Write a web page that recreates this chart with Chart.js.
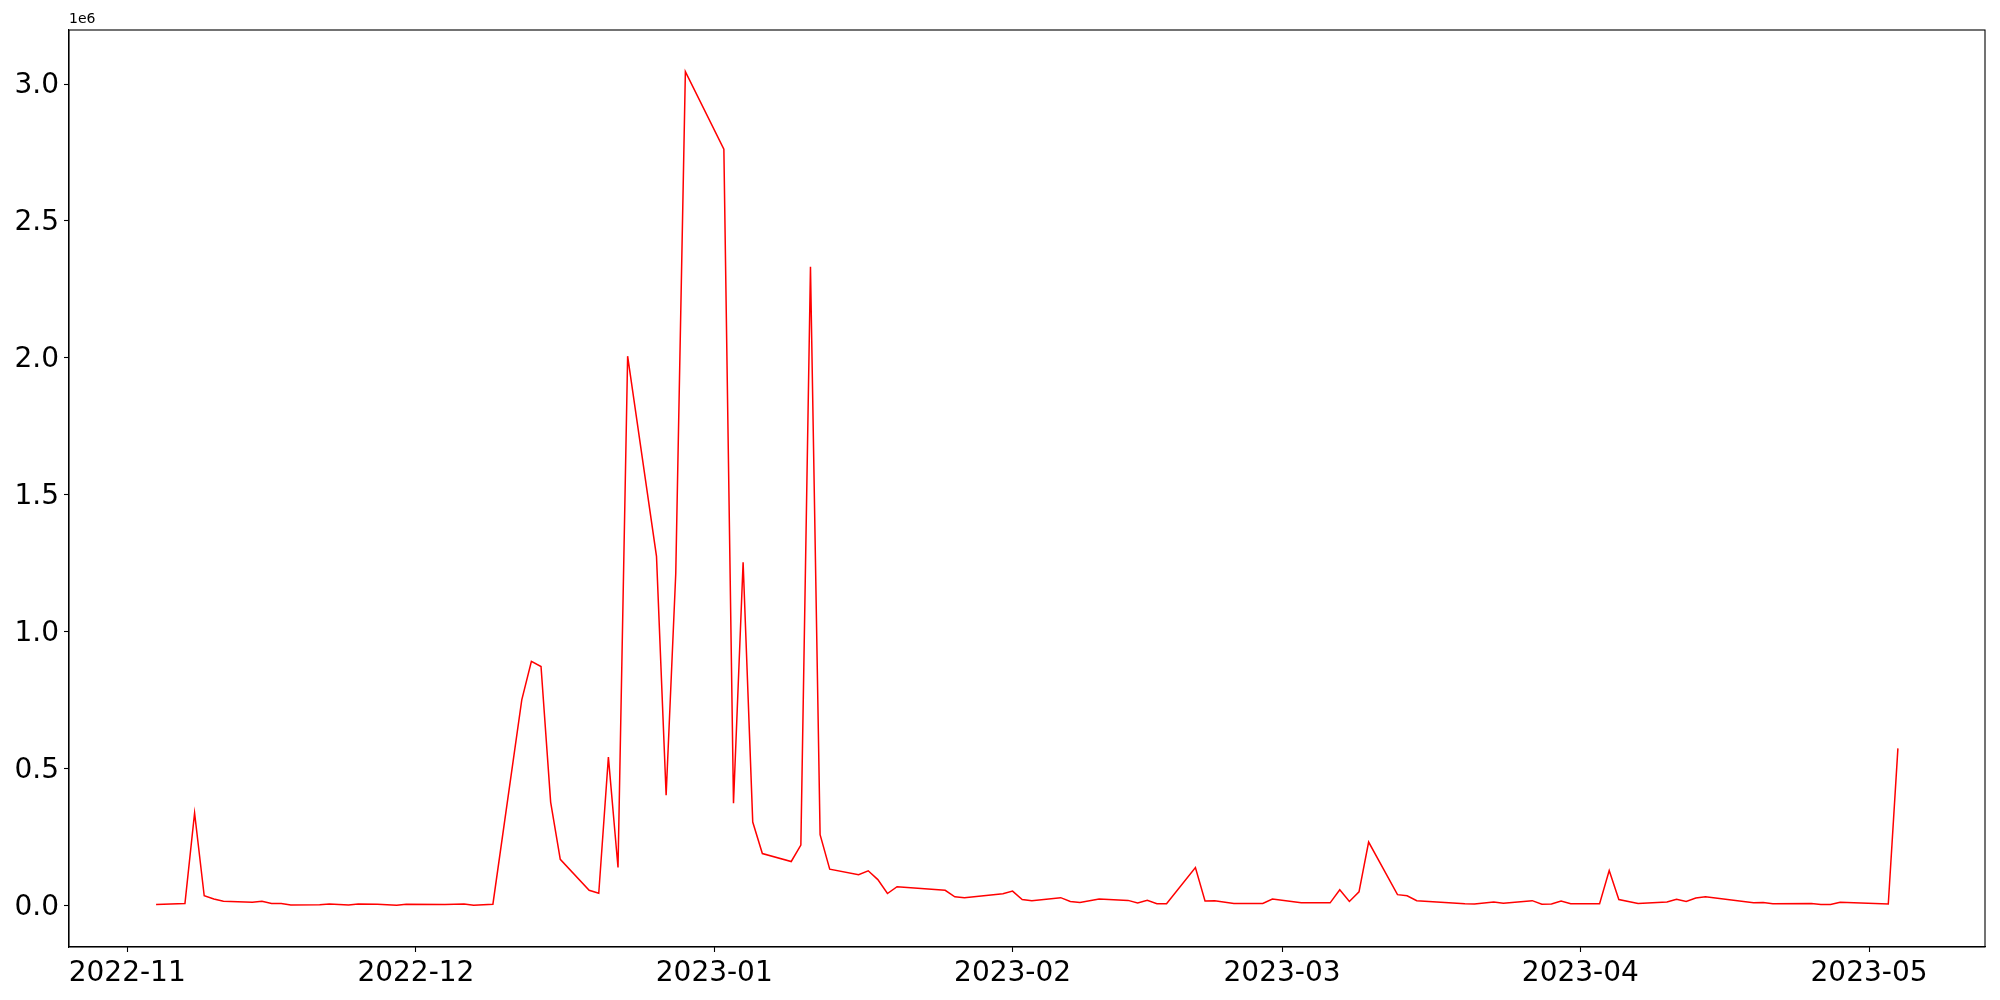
<!DOCTYPE html>
<html>
<head>
<meta charset="utf-8">
<script src="https://cdn.jsdelivr.net/npm/chart.js@4.4.0/dist/chart.umd.min.js"></script>
<style>
  html, body { margin: 0; padding: 0; background: #ffffff; }
  #wrap { width: 2000px; height: 1000px; }
</style>
</head>
<body>
<div id="wrap"><canvas id="c" width="2000" height="1000"></canvas></div>
<script>
const dates = [
  "2022-11-04","2022-11-07","2022-11-08","2022-11-09","2022-11-10","2022-11-11","2022-11-14","2022-11-15",
  "2022-11-16","2022-11-17","2022-11-18","2022-11-21","2022-11-22","2022-11-23","2022-11-24","2022-11-25",
  "2022-11-27","2022-11-29","2022-11-30","2022-12-04","2022-12-06","2022-12-07","2022-12-09","2022-12-12",
  "2022-12-13","2022-12-14","2022-12-15","2022-12-16","2022-12-19","2022-12-20","2022-12-21","2022-12-22",
  "2022-12-23","2022-12-26","2022-12-27","2022-12-28","2022-12-29","2023-01-02","2023-01-03","2023-01-04",
  "2023-01-05","2023-01-06","2023-01-09","2023-01-10","2023-01-11","2023-01-12","2023-01-13","2023-01-16",
  "2023-01-17","2023-01-18","2023-01-19","2023-01-20","2023-01-25","2023-01-26","2023-01-27","2023-01-31",
  "2023-02-01","2023-02-02","2023-02-03","2023-02-06","2023-02-07","2023-02-08","2023-02-10","2023-02-13",
  "2023-02-14","2023-02-15","2023-02-16","2023-02-17","2023-02-20","2023-02-21","2023-02-22","2023-02-24",
  "2023-02-27","2023-02-28","2023-03-03","2023-03-06","2023-03-07","2023-03-08","2023-03-09","2023-03-10",
  "2023-03-13","2023-03-14","2023-03-15","2023-03-20","2023-03-21","2023-03-23","2023-03-24","2023-03-27",
  "2023-03-28","2023-03-29","2023-03-30","2023-03-31","2023-04-03","2023-04-04","2023-04-05","2023-04-07",
  "2023-04-10","2023-04-11","2023-04-12","2023-04-13","2023-04-14","2023-04-19","2023-04-20","2023-04-21",
  "2023-04-25","2023-04-26","2023-04-27","2023-04-28","2023-05-03","2023-05-04"
];
const values = [
  4000, 8000, 338000, 36000, 24000, 16000, 12000, 16000,
  8000, 8000, 2000, 3000, 6000, 4000, 2000, 6000,
  5000, 1000, 5000, 4000, 6000, 1000, 5000, 751000,
  892000, 873000, 378000, 169000, 56000, 45000, 542000, 139000,
  2006000, 1275000, 403000, 1212000, 3045000, 2762000, 374000, 1254000,
  305000, 190000, 161000, 221000, 2333000, 259000, 133000, 113000,
  127000, 95000, 44000, 69000, 56000, 32000, 29000, 43000,
  53000, 22000, 18000, 29000, 15000, 11000, 24000, 19000,
  10000, 19000, 7000, 7000, 139000, 17000, 18000, 8000,
  8000, 24000, 10000, 10000, 58000, 15000, 50000, 232000,
  40000, 36000, 18000, 7000, 6000, 13000, 9000, 18000,
  5000, 6000, 17000, 7000, 7000, 128000, 22000, 8000,
  13000, 23000, 15000, 28000, 32000, 10000, 11000, 7000,
  8000, 4000, 4000, 12000, 6000, 574000
];
const xTickLabels = ["2022-11","2022-12","2023-01","2023-02","2023-03","2023-04","2023-05"];
const yTickValues = [0, 500000, 1000000, 1500000, 2000000, 2500000, 3000000];
const yTickLabels = ["0.0","0.5","1.0","1.5","2.0","2.5","3.0"];
const offsetText = "1e6";

function dayNum(s) {
  const p = s.split("-").map(Number);
  return Date.UTC(p[0], p[1] - 1, p[2] || 1) / 86400000;
}
const points = dates.map((d, i) => ({ x: dayNum(d), y: values[i] }));
const xTickVals = xTickLabels.map(dayNum);

const xs = points.map(p => p.x), ys = points.map(p => p.y);
const xMinD = Math.min(...xs), xMaxD = Math.max(...xs);
const yMinD = Math.min(...ys), yMaxD = Math.max(...ys);
const xm = (xMaxD - xMinD) * 0.05, ym = (yMaxD - yMinD) * 0.05;

const FONT = "'DejaVu Sans', 'Liberation Sans', sans-serif";

const framePlugin = {
  id: 'frame',
  afterDraw(chart) {
    const { ctx, chartArea: a } = chart;
    ctx.save();
    ctx.strokeStyle = '#000';
    ctx.lineWidth = 1.1;
    ctx.strokeRect(a.left, a.top, a.right - a.left, a.bottom - a.top);
    ctx.fillStyle = '#000';
    ctx.font = "14px " + FONT;
    ctx.textAlign = 'left';
    ctx.textBaseline = 'bottom';
    ctx.fillText(offsetText, a.left, a.top - 4);
    ctx.restore();
  }
};

new Chart(document.getElementById('c'), {
  type: 'line',
  data: {
    datasets: [{
      data: points,
      borderColor: '#ff0000',
      borderWidth: 1.5,
      pointRadius: 0,
      tension: 0,
      fill: false
    }]
  },
  options: {
    responsive: false,
    animation: false,
    devicePixelRatio: 1,
    layout: { padding: { top: 30, right: 15, left: 0, bottom: 0 } },
    plugins: { legend: { display: false }, tooltip: { enabled: false } },
    scales: {
      x: {
        type: 'linear',
        min: xMinD - xm,
        max: xMaxD + xm,
        afterBuildTicks(scale) { scale.ticks = xTickVals.map(v => ({ value: v })); },
        afterFit(scale) { scale.height = 53; },
        ticks: {
          autoSkip: false,
          maxRotation: 0,
          padding: 5,
          color: '#000',
          font: { family: FONT, size: 28 },
          callback(v) { const i = xTickVals.indexOf(v); return i >= 0 ? xTickLabels[i] : ''; }
        },
        grid: { display: true, drawOnChartArea: false, drawTicks: true, tickLength: 5, color: '#000', tickWidth: 1.1 },
        border: { display: true, color: '#000', width: 1.1 }
      },
      y: {
        type: 'linear',
        min: yMinD - ym,
        max: yMaxD + ym,
        afterBuildTicks(scale) { scale.ticks = yTickValues.map(v => ({ value: v })); },
        afterFit(scale) { scale.width = 69; },
        ticks: {
          padding: 5,
          labelOffset: 2,
          color: '#000',
          font: { family: FONT, size: 28 },
          callback(v) { const i = yTickValues.indexOf(v); return i >= 0 ? yTickLabels[i] : ''; }
        },
        grid: { display: true, drawOnChartArea: false, drawTicks: true, tickLength: 5, color: '#000', tickWidth: 1.1 },
        border: { display: true, color: '#000', width: 1.1 }
      }
    }
  },
  plugins: [framePlugin]
});
</script>
</body>
</html>
